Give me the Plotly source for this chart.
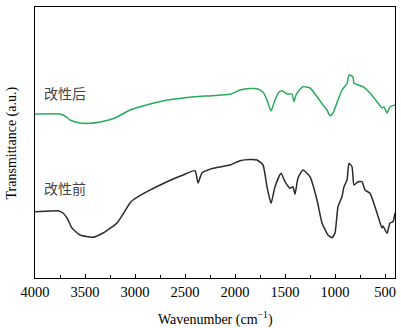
import plotly.graph_objects as go

wn_after = [4000, 3750, 3700, 3650, 3550, 3450, 3350, 3200, 3050, 2850, 2700, 2520, 2300, 2050,
            1950, 1850, 1780, 1720, 1680, 1640, 1600, 1560, 1530, 1480, 1430, 1410, 1390, 1370,
            1320, 1250, 1180, 1120, 1080, 1050, 1020, 970, 930, 880, 860, 840, 820, 810, 770,
            720, 650, 580, 530, 510, 480, 450, 400]
t_after = [164, 164, 162, 158, 155, 154.7, 156, 160, 168, 174, 177.5, 180, 182, 183.7,
           188, 189.5, 189.3, 186, 178, 167, 178, 186, 187.3, 184, 184, 176.3, 183, 186.3,
           191.3, 190, 181.3, 173, 168, 162.3, 165, 178, 188, 194.7, 203, 202.5, 201, 195, 193,
           191.3, 185, 176.3, 170, 171, 165, 171, 173]

wn_before = [4000, 3850, 3770, 3720, 3680, 3630, 3550, 3420, 3320, 3180, 3050, 3020, 2880, 2680,
             2520, 2400, 2370, 2330, 2220, 2050, 1950, 1850, 1780, 1720, 1680, 1640, 1600, 1540,
             1500, 1450, 1420, 1400, 1370, 1320, 1250, 1180, 1130, 1070, 1030, 1000, 970, 930,
             910, 880, 860, 830, 810, 770, 730, 700, 650, 580, 530, 520, 480, 450, 420, 400]
t_before = [66.3, 67, 67.3, 65, 60, 50, 43, 40.7, 45, 55, 75, 78, 86.3, 96.3,
            103, 107.3, 95, 105, 109.7, 113, 117.3, 118.5, 118, 113, 91.3, 74.7, 91.3, 104.7,
            96.3, 89.7, 91.3, 83.7, 100, 108, 101.3, 78, 55, 43, 40.3, 45, 71.3, 81.3,
            91.3, 98, 114.7, 111.3, 93, 96.3, 96.3, 88, 84.7, 65, 50, 52, 44.7, 55, 56.3, 65]

labels = ["改性后", "改性前"]
label_y = [185, 90]
x_ticks = [4000, 3500, 3000, 2500, 2000, 1500, 1000, 500]

fig = go.Figure()
fig.add_trace(go.Scatter(x=wn_after, y=t_after, mode="lines",
                         line=dict(color="#2aab5c", width=1.5, shape="spline", smoothing=0.5),
                         showlegend=False))
fig.add_trace(go.Scatter(x=wn_before, y=t_before, mode="lines",
                         line=dict(color="#2b2b2b", width=1.5, shape="spline", smoothing=0.5),
                         showlegend=False))

for lab, yy in zip(labels, label_y):
    fig.add_annotation(x=3935, y=yy, text=lab, showarrow=False, xanchor="left", yanchor="middle",
                       font=dict(family="Noto Sans CJK SC", size=14, color="#444444"))

serif = "Liberation Serif, Times New Roman, serif"
fig.add_annotation(xref="paper", yref="paper", x=0.5, y=-0.15, xanchor="center", yanchor="middle",
                   text="Wavenumber (cm<sup>−1</sup>)", showarrow=False,
                   font=dict(family=serif, size=14, color="black"))
fig.add_annotation(xref="paper", yref="paper", x=-0.064, y=0.5, xanchor="center", yanchor="middle",
                   text="Transmittance (a.u.)", textangle=-90, showarrow=False,
                   font=dict(family=serif, size=14, color="black"))

fig.update_layout(
    width=401, height=328,
    margin=dict(l=35, r=6, t=7, b=50, autoexpand=False),
    paper_bgcolor="white", plot_bgcolor="white",
    font=dict(family=serif, size=13, color="black"),
    xaxis=dict(range=[4000, 400], tickvals=x_ticks, ticks="inside", ticklen=4, tickwidth=1,
               tickcolor="black", showline=True, linecolor="black", linewidth=1.2, mirror=True,
               showgrid=False, zeroline=False, tickfont=dict(family=serif, size=14.5),
               automargin=False,
               minor=dict(tickvals=[3750, 3250, 2750, 2250, 1750, 1250, 750], ticks="inside",
                          ticklen=2.5, tickcolor="black", showgrid=False)),
    yaxis=dict(range=[0, 271], showticklabels=False, ticks="", showline=True, linecolor="black",
               linewidth=1.2, mirror=True, showgrid=False, zeroline=False, automargin=False),
)

fig.write_html("out.html", config={"displayModeBar": False},
               post_script="document.body.style.margin='0';document.body.style.overflow='hidden';")
